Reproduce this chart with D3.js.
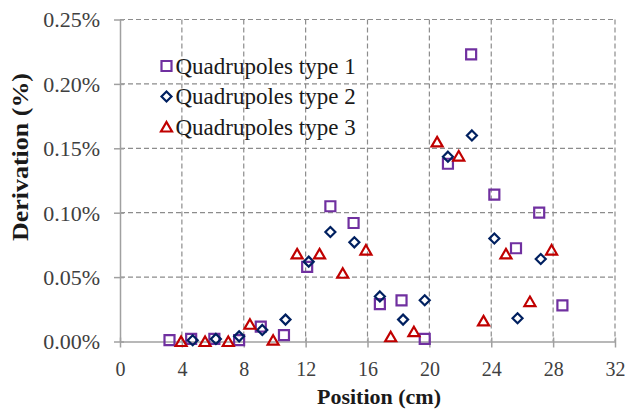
<!DOCTYPE html>
<html>
    <head>
        <meta charset="utf-8">
        <title>Derivation vs position</title>
        <script src="https://d3js.org/d3.v7.min.js"></script>
        <style>
            body {margin:0; background:#fff;}
            svg text {font-family:"Liberation Serif", "Times New Roman", Tinos, serif;}
            .grid line {stroke:#8c8c8c; stroke-width:1.2px; stroke-dasharray:5,3;}
            .axis path, .axis line {stroke:#a0a0a0; stroke-width:1.5px;}
            .axis text {fill:#404040;}
        </style>
    </head>
    <body>
        <svg id="chart" width="625" height="415"></svg>

        <script>
            "use strict";

            // values (x in cm, y in %)
            const type1X = [3.2, 4.6, 6.1, 7.7, 9.1, 10.6, 12.1, 13.6, 15.1, 16.8, 18.2, 19.7, 21.2, 22.7, 24.2, 25.6, 27.1, 28.6];
            const type1Y = [0.001, 0.002, 0.002, 0.001, 0.0115, 0.005, 0.058, 0.105, 0.092, 0.029, 0.032, 0.002, 0.138, 0.223, 0.114, 0.0724, 0.100, 0.028];

            const type2X = [4.7, 6.2, 7.7, 9.2, 10.7, 12.2, 13.6, 15.15, 16.8, 18.3, 19.7, 21.2, 22.75, 24.2, 25.7, 27.2];
            const type2Y = [0.001, 0.002, 0.004, 0.009, 0.017, 0.062, 0.085, 0.077, 0.035, 0.017, 0.032, 0.1435, 0.160, 0.080, 0.018, 0.064];

            const type3X = [3.95, 5.5, 7.0, 8.4, 9.9, 11.45, 12.9, 14.4, 15.9, 17.5, 19.0, 20.5, 21.9, 23.5, 24.95, 26.5, 27.9];
            const type3Y = [0.000, 0.000, 0.000, 0.0134, 0.001, 0.068, 0.068, 0.053, 0.071, 0.0037, 0.0076, 0.155, 0.144, 0.016, 0.068, 0.031, 0.071];

            const seriesNames = ["Quadrupoles type 1", "Quadrupoles type 2", "Quadrupoles type 3"];
            const xTicks = [0, 4, 8, 12, 16, 20, 24, 28, 32];
            const yTicks = [0, 0.05, 0.10, 0.15, 0.20, 0.25];

            const svg = d3.select("#chart");
            const margin = {top:19.5, right:10, bottom:73.5, left:120};
            const width = +svg.attr("width");
            const height = +svg.attr("height");
            const innerWidth = width - margin.left - margin.right;
            const innerHeight = height - margin.top - margin.bottom;

            const xScale = d3.scaleLinear().domain([0, 32]).range([0, innerWidth]);
            const yScale = d3.scaleLinear().domain([0, 0.25]).range([innerHeight, 0]);

            const g = svg.append("g")
                .attr("transform", `translate(${margin.left},${margin.top})`);

            // dashed grid
            g.append("g").attr("class", "grid")
                .selectAll("line").data(xTicks.slice(1)).enter().append("line")
                .attr("x1", d => xScale(d)).attr("x2", d => xScale(d))
                .attr("y1", 0).attr("y2", innerHeight);
            g.append("g").attr("class", "grid")
                .selectAll("line").data(yTicks.slice(1)).enter().append("line")
                .attr("x1", 0).attr("x2", innerWidth)
                .attr("y1", d => yScale(d)).attr("y2", d => yScale(d));

            // axes
            const xAxis = g.append("g").attr("class", "axis")
                .attr("transform", `translate(0,${innerHeight})`)
                .call(d3.axisBottom(xScale).tickValues(xTicks).tickSizeOuter(0).tickPadding(14));
            xAxis.selectAll(".tick line").attr("y1", -4).attr("y2", 6);
            xAxis.selectAll(".tick text").attr("font-size", 20);

            const yAxis = g.append("g").attr("class", "axis")
                .call(d3.axisLeft(yScale).tickValues(yTicks).tickSizeOuter(0).tickPadding(14)
                    .tickFormat(d => d.toFixed(2) + "%"));
            yAxis.selectAll(".tick line").attr("x1", -6).attr("x2", 4);
            yAxis.selectAll(".tick text").attr("font-size", 22).attr("dy", "0.34em");
            svg.selectAll(".axis").attr("font-family", null).attr("font-size", null);
            svg.selectAll(".axis .domain").attr("fill", "none");

            // marker shapes, centred on their bounding box
            const square = "M-5,-5H5V5H-5Z";
            const diamond = "M0,-5L5,0L0,5L-5,0Z";
            const triangle = "M0,-5L5.5,4.5H-5.5Z";

            const series = [
                {x:type1X, y:type1Y, shape:square, color:"#7030a0"},
                {x:type2X, y:type2Y, shape:diamond, color:"#002060"},
                {x:type3X, y:type3Y, shape:triangle, color:"#c00000"}
            ];

            series.forEach(s => {
                g.append("g").selectAll("path")
                    .data(s.x.map((x, i) => ({x:x, y:s.y[i]})))
                    .enter().append("path")
                    .attr("d", s.shape)
                    .attr("transform", d => `translate(${xScale(d.x)},${yScale(d.y)})`)
                    .attr("fill", "none")
                    .attr("stroke", s.color)
                    .attr("stroke-width", 2.2);
            });

            // legend
            const legend = svg.append("g").attr("transform", "translate(166.5,66)");
            series.forEach((s, i) => {
                const row = legend.append("g").attr("transform", `translate(0,${i * 30.5})`);
                row.append("path").attr("d", s.shape)
                    .attr("fill", "none").attr("stroke", s.color).attr("stroke-width", 2.2);
                row.append("text").attr("x", 9).attr("y", 7.5)
                    .attr("font-size", 23).attr("fill", "#1a1a1a")
                    .text(seriesNames[i]);
            });

            // axis titles
            svg.append("text")
                .attr("x", 379).attr("y", 404)
                .attr("text-anchor", "middle")
                .attr("font-size", 22).attr("font-weight", "bold").attr("fill", "#1a1a1a")
                .text("Position (cm)");

            svg.append("text")
                .attr("transform", "translate(28,157) rotate(-90)")
                .attr("text-anchor", "middle")
                .attr("font-size", 23).attr("font-weight", "bold").attr("fill", "#1a1a1a")
                .attr("textLength", 168).attr("lengthAdjust", "spacingAndGlyphs")
                .text("Derivation (%)");
        </script>
    </body>
</html>
